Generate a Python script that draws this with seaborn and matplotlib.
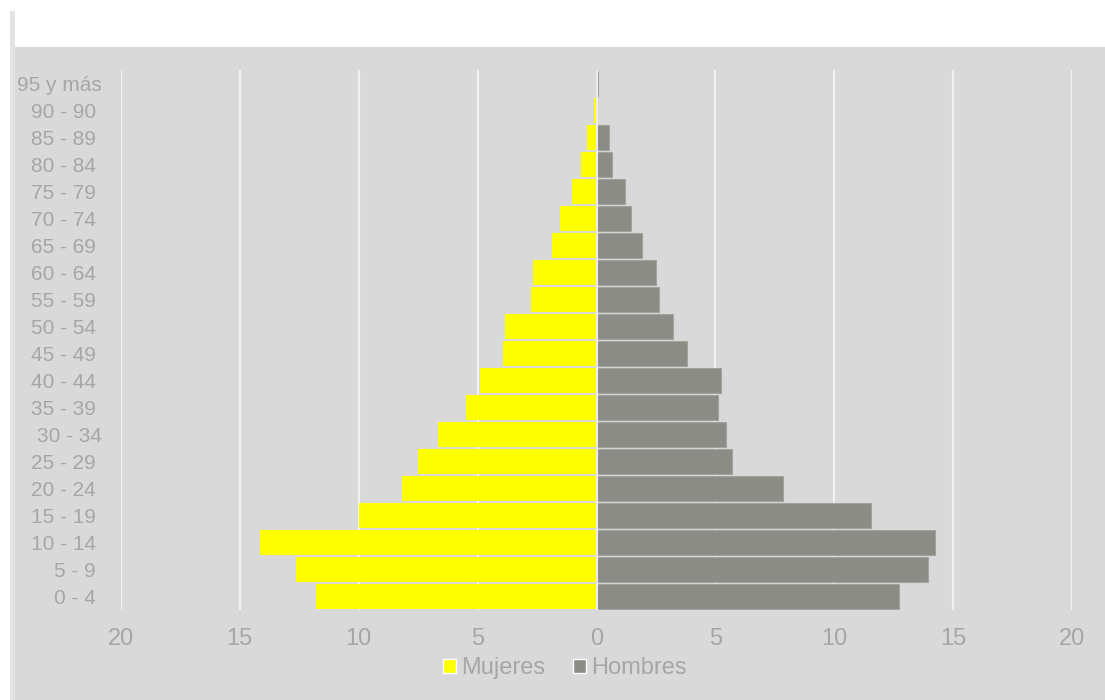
import matplotlib
matplotlib.use("Agg")
import matplotlib.pyplot as plt
from matplotlib.patches import Rectangle
from matplotlib.ticker import FixedLocator, FuncFormatter
import matplotlib.transforms as mtransforms
import numpy as np
import pandas as pd
import seaborn as sns

# Age groups, top of the pyramid first
grupos = ["95 y más", "90 - 90", "85 - 89", "80 - 84", "75 - 79", "70 - 74",
          "65 - 69", "60 - 64", "55 - 59", "50 - 54", "45 - 49", "40 - 44",
          "35 - 39", "30 - 34", "25 - 29", "20 - 24", "15 - 19", "10 - 14",
          "5 - 9", "0 - 4"]

# Percentage of population per age group
mujeres = [0.02, 0.11, 0.40, 0.66, 1.04, 1.54, 1.86, 2.66, 2.76, 3.83, 3.92,
           4.92, 5.47, 6.68, 7.49, 8.19, 9.99, 14.16, 12.65, 11.81]
hombres = [0.08, 0.03, 0.52, 0.64, 1.21, 1.46, 1.93, 2.49, 2.64, 3.22, 3.80,
           5.22, 5.10, 5.43, 5.69, 7.83, 11.56, 14.23, 13.96, 12.74]

series = ["Mujeres", "Hombres"]
colores = ["#ffff00", "#8b8c85"]
ticks_x = [-20, -15, -10, -5, 0, 5, 10, 15, 20]

df = pd.concat([
    pd.DataFrame({"grupo": grupos, "valor": -np.array(mujeres), "sexo": series[0]}),
    pd.DataFrame({"grupo": grupos, "valor": np.array(hombres), "sexo": series[1]}),
])

sns.set_theme(style="white")
plt.rcParams["font.family"] = ["Liberation Sans", "DejaVu Sans"]

TXT = "#a6a6a6"
PANEL = "#d9d9d9"

fig = plt.figure(figsize=(11.05, 7.0), dpi=100)
fig.patch.set_facecolor("white")

# Chart area background and its thin left border
W, H = 1105.0, 700.0
fig.add_artist(Rectangle((10 / W, 0), 5 / W, (H - 11) / H, transform=fig.transFigure,
                         facecolor="#e3e3e3", edgecolor="none", zorder=0))
fig.add_artist(Rectangle((15 / W, 0), (W - 15) / W, (H - 47) / H, transform=fig.transFigure,
                         facecolor=PANEL, edgecolor="none", zorder=0))

ax = fig.add_axes([121 / W, 1 - 610 / H, (1072 - 121) / W, (610 - 70) / H])
ax.set_facecolor("none")

sns.barplot(data=df, x="valor", y="grupo", hue="sexo", order=grupos,
            hue_order=series, palette=colores, orient="h", dodge=False,
            width=0.92, ax=ax, saturation=1, legend=True)

# Light outline on the men's bars
for bar in ax.containers[1]:
    bar.set_edgecolor("#a3a39e")
    bar.set_linewidth(0.8)
for bar in ax.containers[0]:
    bar.set_edgecolor("none")

ax.set_xlim(-20, 20)
ax.set_ylim(len(grupos) - 0.5, -0.5)
ax.xaxis.set_major_locator(FixedLocator(ticks_x))
ax.xaxis.set_major_formatter(FuncFormatter(lambda v, p: f"{abs(v):.0f}"))
ax.grid(axis="x", color="#f2f2f2", linewidth=1.5)
ax.grid(axis="y", visible=False)
ax.set_axisbelow(True)
ax.axvline(0, color="#ececec", linewidth=1.5, zorder=3)

for s in ax.spines.values():
    s.set_visible(False)

ax.set_xlabel("")
ax.set_ylabel("")
ax.tick_params(axis="x", length=0, pad=13, labelsize=17, labelcolor=TXT)
ax.tick_params(axis="y", length=0, pad=18, labelsize=15, labelcolor=TXT)

# Two labels sit slightly further right
for lab in ax.get_yticklabels():
    if lab.get_text() in ("95 y más", "30 - 34"):
        lab.set_transform(lab.get_transform() +
                          mtransforms.ScaledTranslation(6 / 100, 0, fig.dpi_scale_trans))

handles, labels = ax.get_legend_handles_labels()
ax.legend(handles, labels, loc="center", bbox_to_anchor=(565 / W, (H - 668) / H),
          bbox_transform=fig.transFigure, ncol=2, frameon=False, fontsize=17,
          labelcolor=TXT, handlelength=0.55, handleheight=0.55,
          handletextpad=0.2, columnspacing=1.2, borderpad=0)

fig.savefig("out.png", dpi=100, facecolor=fig.get_facecolor())
